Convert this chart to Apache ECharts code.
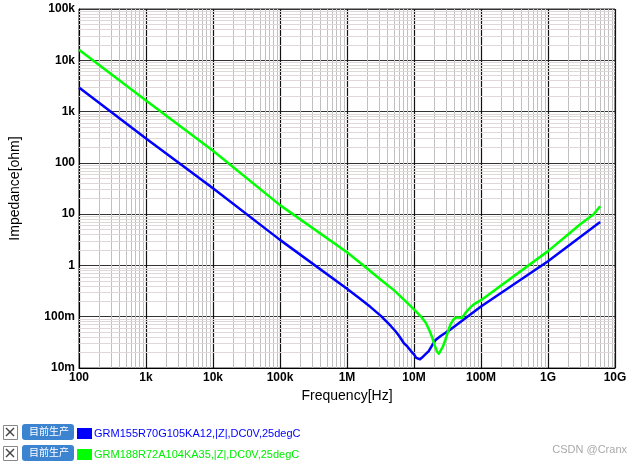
<!DOCTYPE html>
<html>
<head>
<meta charset="utf-8">
<script src="https://cdn.jsdelivr.net/npm/echarts@6/dist/echarts.min.js"></script>
<style>
  html, body { margin: 0; padding: 0; background: #fff; }
  #chart { width: 643px; height: 464px; }
</style>
</head>
<body>
<div id="chart"></div>
<script>
/* ---------- data ---------- */
const xTickLabels = ["100", "1k", "10k", "100k", "1M", "10M", "100M", "1G", "10G"];
const yTickLabels = ["10m", "100m", "1", "10", "100", "1k", "10k", "100k"];

const blueName = "GRM155R70G105KA12,|Z|,DC0V,25degC";
const blueFreq = [100, 1e3, 1e4, 1e5, 1e6, 1.5e6, 2.25e6, 3.2e6, 4.5e6, 5.3e6, 6e6, 7e6, 8e6, 9e6, 10e6, 10.8e6, 11.5e6, 12.3e6, 13.2e6, 14.5e6, 16.6e6, 19e6, 21e6, 25e6, 35e6, 1e8, 1e9, 6e9];
const blueZ = [2950, 300, 32, 3.15, 0.35, 0.234, 0.154, 0.104, 0.066, 0.052, 0.042, 0.031, 0.026, 0.0214, 0.0185, 0.0158, 0.0146, 0.0148, 0.016, 0.018, 0.0214, 0.029, 0.035, 0.042, 0.0565, 0.158, 1.21, 7.0];

const greenName = "GRM188R72A104KA35,|Z|,DC0V,25degC";
const greenFreq = [100, 1e3, 1e4, 1e5, 1e6, 2e6, 3.16e6, 5e6, 7e6, 1e7, 1.25e7, 1.5e7, 1.7e7, 1.86e7, 2.05e7, 2.2e7, 2.35e7, 2.5e7, 2.7e7, 2.95e7, 3.2e7, 3.5e7, 3.85e7, 4.2e7, 4.5e7, 4.8e7, 5.2e7, 5.9e7, 6.9e7, 7.8e7, 1e8, 1e9, 2.14e9, 3e9, 4.8e9, 6e9];
const greenZ = [16000, 1650, 172, 15, 1.8, 0.87, 0.533, 0.33, 0.217, 0.139, 0.103, 0.076, 0.054, 0.04, 0.027, 0.021, 0.019, 0.02, 0.026, 0.036, 0.05, 0.0707, 0.087, 0.0955, 0.097, 0.091, 0.095, 0.12, 0.15, 0.174, 0.21, 1.9, 4.34, 6.3, 9.9, 14.3];

/* ---------- helpers ---------- */
const pairs = (xs, ys) => xs.map((x, i) => [x, ys[i]]);

// minor grid positions 2..9 per decade
function minorValues(fromExp, toExp) {
  const out = [];
  for (let e = fromExp; e < toExp; e++) {
    for (let k = 2; k <= 9; k++) out.push(k * Math.pow(10, e));
  }
  return out;
}

const FONT = "'Liberation Sans', Arial, sans-serif";
const chart = echarts.init(document.getElementById("chart"), null, { renderer: "canvas" });

const legendBase = {
  left: 77, padding: 0, itemWidth: 15, itemHeight: 11, icon: "rect", selectedMode: false,
  textStyle: { fontFamily: FONT, fontSize: 11, padding: [0, 0, 0, -3] }
};

const option = {
  animation: false,
  backgroundColor: "#fff",
  grid: {
    left: 78, right: 28, top: 9, bottom: 96,
    show: true, borderColor: "#333", borderWidth: 1
  },
  xAxis: {
    type: "log", logBase: 10, min: 100, max: 1e10, splitNumber: 8,
    name: "Frequency[Hz]", nameLocation: "middle", nameGap: 20,
    nameTextStyle: { fontFamily: FONT, fontSize: 14, color: "#000" },
    axisLine: { lineStyle: { color: "#000", width: 1 } },
    axisTick: { show: false },
    axisLabel: {
      margin: 4, color: "#000", fontFamily: FONT, fontSize: 12, fontWeight: "bold",
      formatter: (v) => xTickLabels[Math.round(Math.log10(v)) - 2]
    },
    splitLine: { show: true, lineStyle: { color: "#111", width: 1.2 } }
  },
  yAxis: {
    type: "log", logBase: 10, min: 0.01, max: 1e5, splitNumber: 7,
    name: "Impedance[ohm]", nameLocation: "middle", nameGap: 57,
    nameTextStyle: { fontFamily: FONT, fontSize: 14, color: "#000" },
    axisLine: { lineStyle: { color: "#000", width: 1 } },
    axisTick: { show: false },
    axisLabel: {
      margin: 4, color: "#000", fontFamily: FONT, fontSize: 12, fontWeight: "bold",
      formatter: (v) => yTickLabels[Math.round(Math.log10(v)) + 2]
    },
    splitLine: { show: true, lineStyle: { color: "#333", width: 1.2 } }
  },
  legend: [
    Object.assign({}, legendBase, { top: 428, data: [{ name: blueName, textStyle: { color: "#0000ff" } }] }),
    Object.assign({}, legendBase, { top: 449, data: [{ name: greenName, textStyle: { color: "#00ee00" } }] })
  ],
  series: [
    {
      name: "minor-grid", type: "line", data: [], silent: true, z: 1,
      markLine: {
        z: 1, silent: true, symbol: "none", label: { show: false }, animation: false,
        data: [
          ...minorValues(2, 10).map((v) => ({ xAxis: v, lineStyle: { color: "#c0c0c0", width: 1, type: "solid" } })),
          ...minorValues(-2, 5).map((v) => ({ yAxis: v, lineStyle: { color: "#e0d8d8", width: 1, type: "solid" } }))
        ]
      }
    },
    {
      name: blueName, type: "line", data: pairs(blueFreq, blueZ), z: 3,
      showSymbol: false, smooth: false,
      itemStyle: { color: "#0000ff" },
      lineStyle: { color: "#0000ff", width: 2.5, join: "round" }
    },
    {
      name: greenName, type: "line", data: pairs(greenFreq, greenZ), z: 4,
      showSymbol: false, smooth: false,
      itemStyle: { color: "#00ff00" },
      lineStyle: { color: "#00ff00", width: 2.5, join: "round" }
    }
  ],
  graphic: [
    // row 1: checkbox + button
    { type: "rect", left: 3, top: 425, shape: { width: 14, height: 14 }, style: { fill: "#fff", stroke: "#888", lineWidth: 1 } },
    { type: "line", shape: { x1: 6, y1: 428, x2: 14, y2: 436 }, style: { stroke: "#444", lineWidth: 1.5 } },
    { type: "line", shape: { x1: 14, y1: 428, x2: 6, y2: 436 }, style: { stroke: "#444", lineWidth: 1.5 } },
    { type: "rect", left: 22, top: 424, shape: { width: 52, height: 16, r: 3 }, style: { fill: "#3d84d0" } },
    { type: "text", left: 29, top: 426, style: { text: "目前生产", fill: "#fff", font: "10px 'Noto Sans CJK SC'" } },
    // row 2
    { type: "rect", left: 3, top: 446, shape: { width: 14, height: 14 }, style: { fill: "#fff", stroke: "#888", lineWidth: 1 } },
    { type: "line", shape: { x1: 6, y1: 449, x2: 14, y2: 457 }, style: { stroke: "#444", lineWidth: 1.5 } },
    { type: "line", shape: { x1: 14, y1: 449, x2: 6, y2: 457 }, style: { stroke: "#444", lineWidth: 1.5 } },
    { type: "rect", left: 22, top: 445, shape: { width: 52, height: 16, r: 3 }, style: { fill: "#3d84d0" } },
    { type: "text", left: 29, top: 447, style: { text: "目前生产", fill: "#fff", font: "10px 'Noto Sans CJK SC'" } },
    // watermark
    { type: "text", right: 16, top: 444, style: { text: "CSDN @Cranx", fill: "#aaa", font: "11px " + FONT } }
  ]
};

chart.setOption(option);
window.addEventListener("resize", () => chart.resize());
</script>
</body>
</html>
